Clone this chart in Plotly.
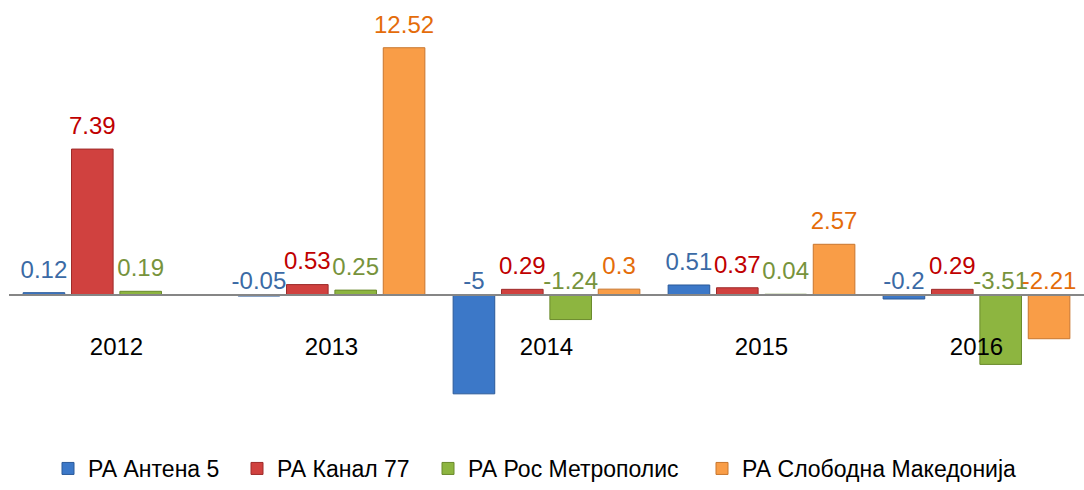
import plotly.graph_objects as go

years = ["2012", "2013", "2014", "2015", "2016"]
series_names = ["РА Антена 5", "РА Канал 77", "РА Рос Метрополис", "РА Слободна Македонија"]
antena5 = [0.12, -0.05, -5, 0.51, -0.2]
kanal77 = [7.39, 0.53, 0.29, 0.37, 0.29]
ros_metropolis = [0.19, 0.25, -1.24, 0.04, -3.51]
slobodna_mk = [None, 12.52, 0.3, 2.57, -2.21]

bar_colors = ["#3C78C8", "#D0413F", "#8DB540", "#F99D47"]
line_colors = ["#2B5A99", "#9E2B2A", "#6A8A2C", "#C8762E"]
label_colors = ["#3B6AA5", "#C00000", "#77933C", "#E46C0A"]

# legend entry left positions (pixels in the window)
legend_px = [48, 237, 428, 702]

FONT = "Liberation Sans, Arial, sans-serif"
y_min, y_max = -5.97, 14.43
W, H = 1084, 490
ML, MR, MT, MB = 9, 0, 10, 70
plot_w = W - ML - MR

fig = go.Figure()
all_series = [antena5, kanal77, ros_metropolis, slobodna_mk]
legend_ids = ["legend", "legend2", "legend3", "legend4"]
for name, vals, bc, lc, lg in zip(series_names, all_series, bar_colors, line_colors, legend_ids):
    fig.add_trace(go.Bar(
        x=years, y=vals, name=name, legend=lg,
        marker=dict(color=bc, line=dict(color=lc, width=1)),
        hoverinfo="x+y+name",
    ))

for name, vals, tc in zip(series_names, all_series, label_colors):
    ys = [None if v is None else max(v, 0) for v in vals]
    txt = ["" if v is None else f"{v:g}" for v in vals]
    sizes = [0 if (v is None or v < 0) else 13 for v in vals]
    fig.add_trace(go.Scatter(
        x=years, y=ys, text=txt, mode="markers+text",
        textposition="top center",
        textfont=dict(family=FONT, size=24, color=tc),
        marker=dict(size=sizes, opacity=0, color=tc),
        showlegend=False, hoverinfo="skip", cliponaxis=False,
    ))

zero_pos = (0 - y_min) / (y_max - y_min)

legend_layouts = {}
for lg, px in zip(legend_ids, legend_px):
    legend_layouts[lg] = dict(
        orientation="h", x=(px - ML) / plot_w, xanchor="left",
        y=-0.139, yanchor="middle",
        font=dict(family=FONT, size=23, color="black"),
        bgcolor="rgba(0,0,0,0)",
    )

fig.update_layout(
    width=W, height=H,
    margin=dict(l=ML, r=MR, t=MT, b=MB),
    paper_bgcolor="white", plot_bgcolor="white",
    barmode="group", bargap=0.1, bargroupgap=0.14,
    scattermode="group", scattergap=0.1,
    font=dict(family=FONT, size=24, color="black"),
    xaxis=dict(
        type="category", anchor="free", position=zero_pos,
        showline=True, linecolor="#868686", linewidth=2,
        showgrid=False, ticks="", ticklabelstandoff=30,
        tickfont=dict(family=FONT, size=24, color="black"),
        layer="above traces",
    ),
    yaxis=dict(range=[y_min, y_max], visible=False, showgrid=False, zeroline=False),
    showlegend=True,
    **legend_layouts,
)

fig.write_html(
    "out.html",
    config={"displayModeBar": False},
    post_script="document.body.style.margin='0';document.body.style.padding='0';"
                "document.documentElement.style.overflow='hidden';",
)
